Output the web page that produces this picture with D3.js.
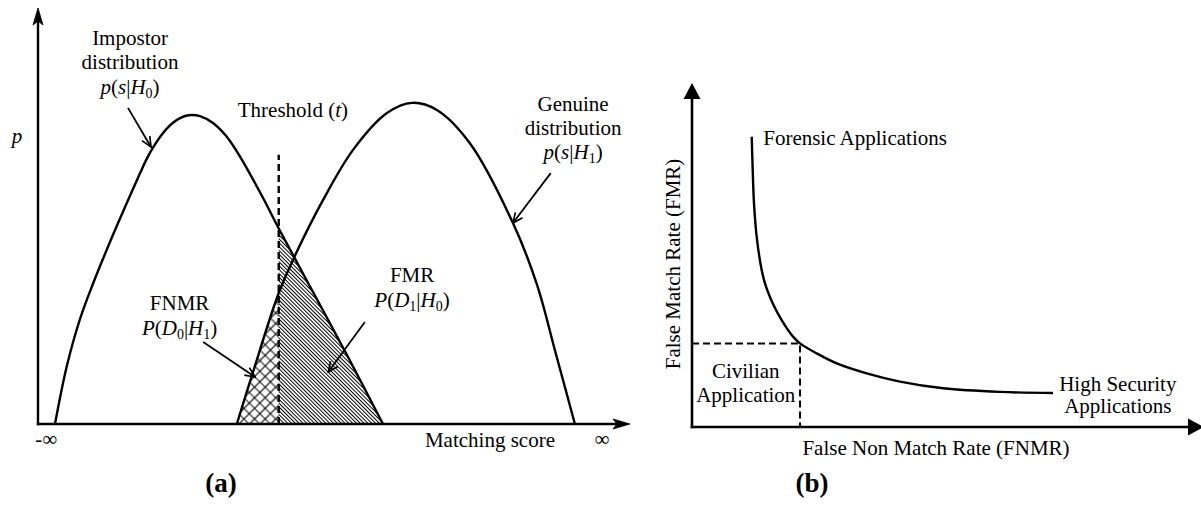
<!DOCTYPE html>
<html><head><meta charset="utf-8">
<script src="https://cdn.jsdelivr.net/npm/d3@7"></script>
<style>
body{margin:0;background:#fff}
svg{display:block}
text{font-family:"Liberation Serif","Times New Roman",serif;font-size:21px;fill:#000}
</style>
</head><body>
<svg id="c" width="1201" height="506"></svg>
<script>
// ---------- DATA ----------
// Panel (a): score (0..100) vs probability density (0..100, arbitrary units)
const impostorScore   = [2.88, 4.86, 7.12, 9.37, 12.2, 15.03, 17.29, 18.47, 19.49, 20.68, 21.86, 22.88, 24.07, 25.08, 26.1, 27.46, 29.66, 31.86, 34.24, 37.97, 40.85, 46.61, 52.37, 58.47];
const impostorDensity = [0, 13.77, 25.24, 33.89, 43.75, 53.05, 60.26, 63.85, 66.44, 68.99, 71.06, 72.43, 73.53, 74.09, 74.28, 73.99, 72.36, 69.28, 64.3, 54.81, 46.88, 31.73, 16.59, 0];
const genuineScore    = [33.7, 36.4, 40.8, 43.6, 48.3, 53.4, 59.2, 63.4, 67.6, 73.2, 80.5, 84.6, 87.6, 91.0];
const genuineDensity  = [0, 12.3, 31.5, 40.6, 53.8, 65.9, 74.8, 77.2, 75.5, 67.5, 48.3, 33.4, 17.8, 0];
const thresholdScore  = 40.8;
const thresholdTop    = 64.7;

// Panel (b): FNMR (0..100) vs FMR (0..100)
const detFnmr = [11.99, 12.19, 12.45, 12.99, 14.0, 14.86, 16.2, 18.0, 20.34, 21.69, 25.04, 29.06, 35.08, 41.77, 50.46, 61.85, 72.49];
const detFmr  = [84.4, 74.7, 65.0, 55.3, 45.6, 40.8, 36.0, 31.1, 26.2, 24.3, 21.4, 18.5, 15.6, 13.2, 11.25, 10.2, 9.9];
const civilianPoint = [21.69, 24.3];

// Text labels
const impostorLabel = ["Impostor", "distribution"];
const genuineLabel  = ["Genuine", "distribution"];
const xLabelA = "Matching score";
const xLabelB = "False Non Match Rate (FNMR)";
const yLabelB = "False Match Rate (FMR)";
const forensicLabel = "Forensic Applications";
const civilianLabel = ["Civilian", "Application"];
const highSecLabel  = ["High Security", "Applications"];
const panelLabels   = ["(a)", "(b)"];

// ---------- SCALES ----------
const svg = d3.select("#c");
const xL = d3.scaleLinear().domain([0, 100]).range([38, 628]);
const yL = d3.scaleLinear().domain([0, 100]).range([424, 8]);
const xR = d3.scaleLinear().domain([0, 100]).range([692, 1190]);
const yR = d3.scaleLinear().domain([0, 100]).range([427, 83]);

const impostor = impostorScore.map((s, i) => [s, impostorDensity[i]]);
const genuine  = genuineScore.map((s, i) => [s, genuineDensity[i]]);
const det      = detFnmr.map((s, i) => [s, detFmr[i]]);
const curve = d3.curveCatmullRom.alpha(0.5);

// ---------- DEFS ----------
const defs = svg.append("defs");
const pFmr = defs.append("pattern").attr("id", "fmrHatch")
  .attr("patternUnits", "userSpaceOnUse").attr("width", 8).attr("height", 2.7)
  .attr("patternTransform", "rotate(45)");
pFmr.append("line").attr("x1", 0).attr("x2", 8).attr("y1", 1.35).attr("y2", 1.35)
  .attr("stroke", "#000").attr("stroke-width", 1);

const pFnmr = defs.append("pattern").attr("id", "fnmrHatch")
  .attr("patternUnits", "userSpaceOnUse").attr("width", 7.5).attr("height", 7.5)
  .attr("patternTransform", "rotate(45)");
pFnmr.append("path").attr("d", "M0,3.75H7.5M3.75,0V7.5").attr("stroke", "#000").attr("stroke-width", 1.1);

defs.append("clipPath").attr("id", "leftOfT").append("rect")
  .attr("x", 0).attr("y", 0).attr("width", xL(thresholdScore)).attr("height", 506);
defs.append("clipPath").attr("id", "rightOfT").append("rect")
  .attr("x", xL(thresholdScore)).attr("y", 0).attr("width", 400).attr("height", 506);

defs.append("marker").attr("id", "openArrow")
  .attr("viewBox", "0 0 12 12").attr("refX", 11).attr("refY", 6)
  .attr("markerWidth", 12).attr("markerHeight", 12)
  .attr("markerUnits", "userSpaceOnUse").attr("orient", "auto")
  .append("path").attr("d", "M1,1.5 L11,6 L1,10.5").attr("fill", "none")
  .attr("stroke", "#000").attr("stroke-width", 1.7);

// ---------- PANEL (a) ----------
const gA = svg.append("g");
const area = d3.area().x(d => xL(d[0])).y0(yL(0)).y1(d => yL(d[1])).curve(curve);
const line = d3.line().x(d => xL(d[0])).y(d => yL(d[1])).curve(curve);

gA.append("path").datum(genuine).attr("d", area).attr("fill", "url(#fnmrHatch)").attr("clip-path", "url(#leftOfT)");
gA.append("path").datum(impostor).attr("d", area).attr("fill", "url(#fmrHatch)").attr("clip-path", "url(#rightOfT)");

gA.append("path").datum(impostor).attr("d", line).attr("fill", "none").attr("stroke", "#000").attr("stroke-width", 2.4);
gA.append("path").datum(genuine).attr("d", line).attr("fill", "none").attr("stroke", "#000").attr("stroke-width", 2.4);

gA.append("line").attr("x1", xL(thresholdScore)).attr("x2", xL(thresholdScore))
  .attr("y1", yL(0)).attr("y2", yL(thresholdTop))
  .attr("stroke", "#000").attr("stroke-width", 2.4).attr("stroke-dasharray", "7,4");

// axes (a)
gA.append("line").attr("x1", xL(0)).attr("x2", xL(0)).attr("y1", yL(0) + 1.2).attr("y2", yL(100) + 10)
  .attr("stroke", "#000").attr("stroke-width", 2.4);
gA.append("line").attr("x1", xL(0) - 1.2).attr("x2", xL(100) - 6).attr("y1", yL(0)).attr("y2", yL(0))
  .attr("stroke", "#000").attr("stroke-width", 2.4);
function spike(g, tx, ty, dir) {
  const p = dir === "up"
    ? `M${tx},${ty} L${tx - 5},${ty + 17} L${tx},${ty + 13} L${tx + 5},${ty + 17} Z`
    : `M${tx},${ty} L${tx - 17},${ty - 5} L${tx - 13},${ty} L${tx - 17},${ty + 5} Z`;
  g.append("path").attr("d", p).attr("fill", "#000").attr("stroke", "#000").attr("stroke-width", 0.8);
}
spike(gA, xL(0), yL(100), "up");
spike(gA, xL(100) + 2, yL(0), "right");

// arrows (a)
const arrowsA = [
  [[15.25, 76.0], [19.15, 66.6]],
  [[86.9, 60.3], [80.5, 48.3]],
  [[28.0, 19.7], [36.8, 11.3]],
  [[55.4, 24.5], [49.2, 12.5]]
];
arrowsA.forEach(a => {
  gA.append("line").attr("x1", xL(a[0][0])).attr("y1", yL(a[0][1]))
    .attr("x2", xL(a[1][0])).attr("y2", yL(a[1][1]))
    .attr("stroke", "#000").attr("stroke-width", 1.8).attr("marker-end", "url(#openArrow)");
});

function rich(g, x, y, segs, anchor) {
  const t = g.append("text").attr("x", x).attr("y", y).attr("text-anchor", anchor || "middle");
  let shift = 0;
  segs.forEach(s => {
    const [str, st] = s;
    const ts = t.append("tspan").text(str);
    if (st === "i") ts.attr("font-style", "italic");
    if (st === "sub") { ts.attr("font-size", "14px").attr("dy", 4 - shift); shift = 4; }
    else if (shift !== 0) { ts.attr("dy", -shift); shift = 0; }
  });
  return t;
}

gA.append("text").attr("x", xL(15.6)).attr("y", yL(91.2)).attr("text-anchor", "middle").text(impostorLabel[0]);
gA.append("text").attr("x", xL(15.6)).attr("y", yL(85.3)).attr("text-anchor", "middle").text(impostorLabel[1]);
rich(gA, xL(15.6), yL(79.4), [["p","i"],["(",""],["s","i"],["|",""],["H","i"],["0","sub"],[")",""]]);

rich(gA, xL(43.2), yL(73.8), [["Threshold (",""],["t","i"],[")",""]]);

gA.append("text").attr("x", xL(90.7)).attr("y", yL(75.2)).attr("text-anchor", "middle").text(genuineLabel[0]);
gA.append("text").attr("x", xL(90.7)).attr("y", yL(69.5)).attr("text-anchor", "middle").text(genuineLabel[1]);
rich(gA, xL(90.7), yL(63.7), [["p","i"],["(",""],["s","i"],["|",""],["H","i"],["1","sub"],[")",""]]);

gA.append("text").attr("x", xL(63.4)).attr("y", yL(34.1)).attr("text-anchor", "middle").text("FMR");
rich(gA, xL(63.4), yL(28.1), [["P","i"],["(",""],["D","i"],["1","sub"],["|",""],["H","i"],["0","sub"],[")",""]]);

gA.append("text").attr("x", xL(24.0)).attr("y", yL(27.4)).attr("text-anchor", "middle").text("FNMR");
rich(gA, xL(24.0), yL(21.4), [["P","i"],["(",""],["D","i"],["0","sub"],["|",""],["H","i"],["1","sub"],[")",""]]);

gA.append("text").attr("x", 17).attr("y", yL(67.5)).attr("text-anchor", "middle").attr("font-style", "italic").text("p");
gA.append("text").attr("x", xL(1.4)).attr("y", 446).attr("text-anchor", "middle").text("-∞");
gA.append("text").attr("x", xL(76.6)).attr("y", 447).attr("text-anchor", "middle").text(xLabelA);
gA.append("text").attr("x", xL(95.6)).attr("y", 446).attr("text-anchor", "middle").text("∞");
gA.append("text").attr("x", 221).attr("y", 492).attr("text-anchor", "middle")
  .attr("font-weight", "bold").style("font-size", "27px").text(panelLabels[0]);

// ---------- PANEL (b) ----------
const gB = svg.append("g");
const lineB = d3.line().x(d => xR(d[0])).y(d => yR(d[1])).curve(curve);
gB.append("path").datum(det).attr("d", lineB).attr("fill", "none").attr("stroke", "#000").attr("stroke-width", 2.4);

gB.append("path")
  .attr("d", `M${xR(0)},${yR(civilianPoint[1])} H${xR(civilianPoint[0])} V${yR(0)}`)
  .attr("fill", "none").attr("stroke", "#000").attr("stroke-width", 2).attr("stroke-dasharray", "7,4");

gB.append("line").attr("x1", xR(0)).attr("x2", xR(0)).attr("y1", yR(0) + 1.3).attr("y2", yR(100) + 12)
  .attr("stroke", "#000").attr("stroke-width", 2.6);
gB.append("line").attr("x1", xR(0) - 1.3).attr("x2", xR(100) + 2).attr("y1", yR(0)).attr("y2", yR(0))
  .attr("stroke", "#000").attr("stroke-width", 2.6);
gB.append("path").attr("d", `M${xR(0)},${yR(100)} L${xR(0) - 8.5},${yR(100) + 16} L${xR(0) + 8.5},${yR(100) + 16} Z`).attr("fill", "#000");
gB.append("path").attr("d", `M${xR(100) + 14},${yR(0)} L${xR(100) - 2},${yR(0) - 8.5} L${xR(100) - 2},${yR(0) + 8.5} Z`).attr("fill", "#000");

gB.append("text").attr("x", xR(14.3)).attr("y", yR(82.0)).attr("text-anchor", "start").text(forensicLabel);
gB.append("text").attr("x", xR(10.8)).attr("y", yR(14.2)).attr("text-anchor", "middle").text(civilianLabel[0]);
gB.append("text").attr("x", xR(10.8)).attr("y", yR(7.2)).attr("text-anchor", "middle").text(civilianLabel[1]);
gB.append("text").attr("x", xR(85.5)).attr("y", yR(10.5)).attr("text-anchor", "middle").text(highSecLabel[0]);
gB.append("text").attr("x", xR(85.5)).attr("y", yR(4.0)).attr("text-anchor", "middle").text(highSecLabel[1]);
gB.append("text").attr("x", xR(49.0)).attr("y", 455).attr("text-anchor", "middle").text(xLabelB);
gB.append("text").attr("transform", `translate(${xR(0) - 12},${yR(47.4)}) rotate(-90)`)
  .attr("text-anchor", "middle").text(yLabelB);
gB.append("text").attr("x", 812).attr("y", 492).attr("text-anchor", "middle")
  .attr("font-weight", "bold").style("font-size", "27px").text(panelLabels[1]);
</script>
</body></html>
